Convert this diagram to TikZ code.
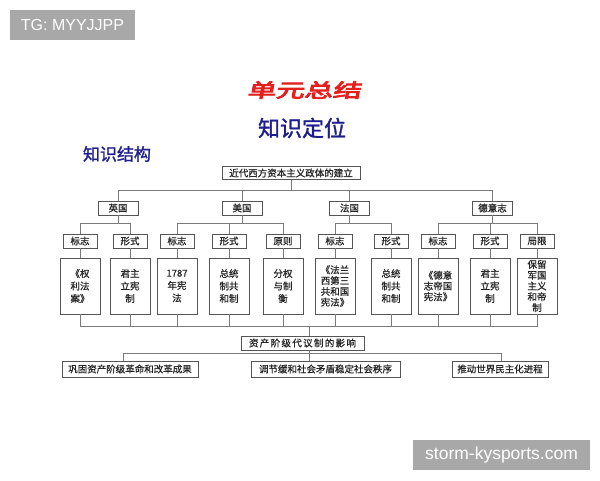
\documentclass[tikz,border=0pt]{standalone}
\usepackage{fontspec}
\setmainfont[FakeBold=0.9]{Noto Sans CJK SC}
\newfontfamily\titlefont[FakeBold=4,FakeSlant=0.12]{Noto Sans CJK SC}
\newfontfamily\headfont[FakeBold=1.4]{Noto Sans CJK SC}
\newfontfamily\markfont{Liberation Sans}
\usepackage{xcolor}
\definecolor{boxline}{HTML}{555555}
\definecolor{wire}{HTML}{7A7A7A}
\definecolor{inkblue}{HTML}{1E1E8C}
\definecolor{inkred}{HTML}{E3201E}
\definecolor{markgray}{HTML}{A8A8A8}

\begin{document}
\begin{tikzpicture}[x=1pt, y=-1pt,
    font=\fontsize{9}{12}\selectfont,
    hd/.style={draw=boxline, text=black!85, inner sep=1pt, minimum height=13pt, font=\fontsize{9.5}{12}\selectfont},
    cat/.style={draw=boxline, text=black!85, inner sep=1pt, minimum width=40pt, minimum height=14pt, font=\fontsize{9.5}{12}\selectfont},
    sub/.style={draw=boxline, text=black!85, inner sep=1pt, minimum width=34pt, minimum height=14pt, font=\fontsize{9.5}{12}\selectfont},
    leaf/.style={draw=boxline, text=black!85, inner sep=1pt, minimum width=40pt, minimum height=56pt, align=center, font=\fontsize{9.5}{12.5}\selectfont},
    tall/.style={font=\fontsize{9.5}{10.8}\selectfont},
    res/.style={draw=boxline, text=black!85, inner sep=1pt, minimum height=16pt, font=\fontsize{9.5}{12}\selectfont},
    ln/.style={draw=wire, line width=0.8pt},
    wm/.style={fill=markgray, text=white, inner sep=0pt, minimum height=30pt},
  ]
    \useasboundingbox (0,0) rectangle (600,480);
    \node[wm, minimum width=125pt, font=\markfont\fontsize{16}{16}\selectfont] (tg) at (72.5,25) {TG: MYYJJPP};
    \node[wm, minimum width=177pt, font=\markfont\fontsize{17.5}{17.5}\selectfont] (site) at (501.5,455) {storm-kysports.com};

    \node[font=\titlefont\fontsize{19}{19}\selectfont, text=inkred, xscale=1.5] (title) at (304,90) {单元总结};
    \node[font=\headfont\fontsize{22}{22}\selectfont, text=inkblue] (place) at (302,128) {知识定位};
    \node[font=\headfont\fontsize{17}{17}\selectfont, text=inkblue] (struct) at (117,154) {知识结构};

    \node[hd, minimum width=138pt] (root) at (291,173) {近代西方资本主义政体的建立};
    \coordinate (bus1) at (0,190);
    \coordinate (bus2) at (0,223);
    \coordinate (bus3) at (0,326);
    \coordinate (bus4) at (0,353);

    \node[cat] (uk) at (118,208) {英国};
    \node[cat] (us) at (242,208) {美国};
    \node[cat] (fr) at (349.5,208) {法国};
    \node[cat] (de) at (492.5,208) {德意志};

    \node[sub] (uk1) at (80,241) {标志};
    \node[sub] (uk2) at (130,241) {形式};
    \node[sub] (us1) at (177,241) {标志};
    \node[sub] (us2) at (229,241) {形式};
    \node[sub] (us3) at (283,241) {原则};
    \node[sub] (fr1) at (335,241) {标志};
    \node[sub] (fr2) at (391,241) {形式};
    \node[sub] (de1) at (438,241) {标志};
    \node[sub] (de2) at (490,241) {形式};
    \node[sub] (de3) at (537,241) {局限};

    \node[leaf] (tuk1) at (80,286) {《权\\利法\\案》};
    \node[leaf] (tuk2) at (130,286) {君主\\立宪\\制};
    \node[leaf] (tus1) at (177,286) {1787\\年宪\\法};
    \node[leaf] (tus2) at (229,286) {总统\\制共\\和制};
    \node[leaf] (tus3) at (283,286) {分权\\与制\\衡};
    \node[leaf, tall] (tfr1) at (335,286) {《法兰\\西第三\\共和国\\宪法》};
    \node[leaf] (tfr2) at (391,286) {总统\\制共\\和制};
    \node[leaf, tall] (tde1) at (438,286) {《德意\\志帝国\\宪法》};
    \node[leaf] (tde2) at (490,286) {君主\\立宪\\制};
    \node[leaf, tall] (tde3) at (537,286) {保留\\军国\\主义\\和帝\\制};

    \node[hd, minimum width=123pt, minimum height=14pt, font=\fontsize{9.5}{12}\selectfont\addfontfeature{LetterSpace=14}] (impact) at (302.5,343) {资产阶级代议制的影响};
    \node[res, minimum width=136pt] (r1) at (130,369) {巩固资产阶级革命和改革成果};
    \node[res, minimum width=149pt] (r2) at (325.5,369) {调节缓和社会矛盾稳定社会秩序};
    \node[res, minimum width=96pt] (r3) at (500,369) {推动世界民主化进程};
    \coordinate (hub) at (309,326);
    \coordinate (hub2) at (309,353);
    \coordinate (j1) at (123,353);
    \coordinate (j3) at (501,353);

    % tree above
    \draw[ln] (root.south) -- (root.south |- bus1);
    \draw[ln] (uk.north) |- (de.north |- bus1) -- (de.north);
    \draw[ln] (us.north) -- (us.north |- bus1);
    \draw[ln] (fr.north) -- (fr.north |- bus1);
    \foreach \c/\a/\b in {uk/uk1/uk2, us/us1/us3, fr/fr1/fr2, de/de1/de3} {
      \draw[ln] (\c.south) -- (\c.south |- bus2);
      \draw[ln] (\a.north) |- (\b.north |- bus2) -- (\b.north);
    }
    \foreach \m in {us2, de2}
      \draw[ln] (\m.north) -- (\m.north |- bus2);
    \foreach \n in {uk1, uk2, us1, us2, us3, fr1, fr2, de1, de2, de3}
      \draw[ln] (\n.south) -- (t\n.north);

    % tree below
    \draw[ln] (tuk1.south) |- (tde3.south |- bus3) -- (tde3.south);
    \foreach \n in {uk2, us1, us2, us3, fr1, fr2, de1, de2}
      \draw[ln] (t\n.south) -- (t\n.south |- bus3);
    \draw[ln] (hub) -- (hub |- impact.north);
    \draw[ln] (impact.south -| hub) -- (hub2);
    \draw[ln] (j1) -- (j3);
    \draw[ln] (j1) -- (j1 |- r1.north);
    \draw[ln] (hub2) -- (hub2 |- r2.north);
    \draw[ln] (j3) -- (j3 |- r3.north);
  \end{tikzpicture}
\end{document}
